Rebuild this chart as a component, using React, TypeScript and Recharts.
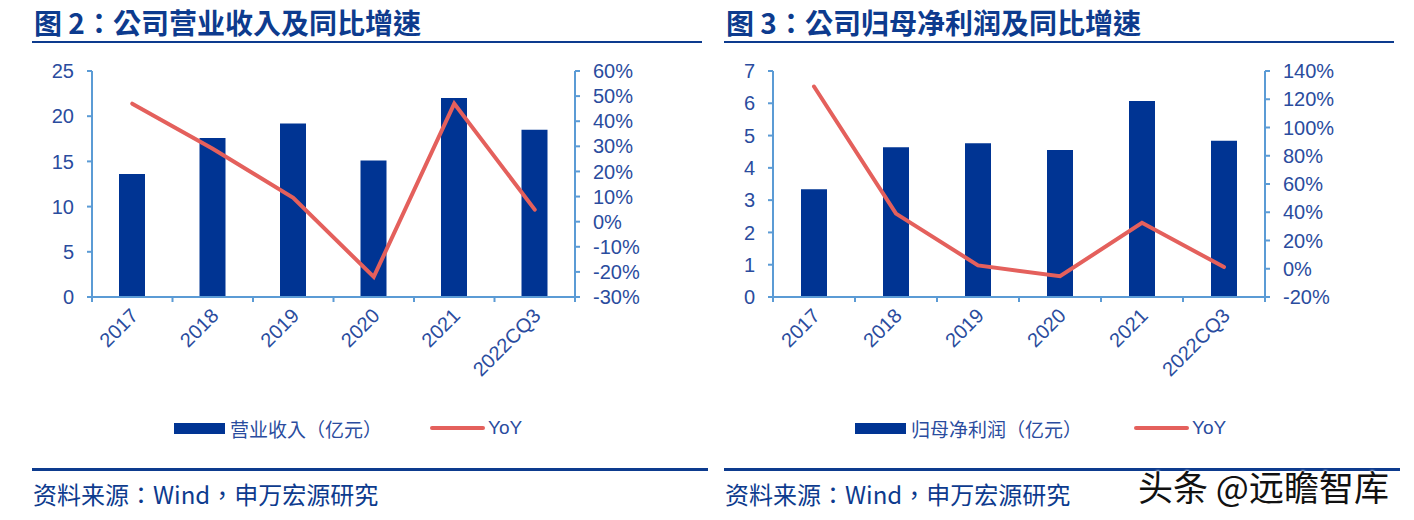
import { ComposedChart, Bar, Line, XAxis, YAxis } from 'recharts';

const years = ['2017', '2018', '2019', '2020', '2021', '2022CQ3'];

// 图2: 营业收入 (亿元) 及 YoY (%)
const revenue = [13.6, 17.6, 19.2, 15.1, 22.0, 18.5];
const revenueYoy = [47, 29, 9.5, -22, 47, 4.8];
const revenueTicks = [0, 5, 10, 15, 20, 25];
const revenueYoyTicks = [-30, -20, -10, 0, 10, 20, 30, 40, 50, 60];

// 图3: 归母净利润 (亿元) 及 YoY (%)
const profit = [3.34, 4.64, 4.76, 4.55, 6.07, 4.84];
const profitYoy = [129, 39, 2.4, -5.3, 32.5, 1.2];
const profitTicks = [0, 1, 2, 3, 4, 5, 6, 7];
const profitYoyTicks = [-20, 0, 20, 40, 60, 80, 100, 120, 140];

const BAR = '#003493';
const RED = '#e4605c';
const AXIS = '#5b9bd5';
const TEXT = '#2a4c9e';
const NAVY = '#0d3b8e';
const NUM_FONT = "'Liberation Sans', Arial, sans-serif";
const CJK_FONT = "'Noto Sans CJK TC', 'Noto Sans CJK SC', 'Liberation Sans', sans-serif";

const XTick = (props: any) => {
  const { x, y, payload, index } = props;
  const off = payload && payload.offset ? payload.offset : 40;
  return (
    <g>
      <line x1={x - off} x2={x - off} y1={y - 5} y2={y} stroke={AXIS} strokeWidth={2} />
      {index === years.length - 1 && (
        <line x1={x + off} x2={x + off} y1={y - 5} y2={y} stroke={AXIS} strokeWidth={2} />
      )}
      <text
        x={x + 7}
        y={y + 15}
        transform={`rotate(-45, ${x + 7}, ${y + 15})`}
        textAnchor="end"
        fontSize={20}
        fontFamily={NUM_FONT}
        fill={TEXT}
      >
        {payload.value}
      </text>
    </g>
  );
};

interface PanelProps {
  left: number;
  title: string;
  barName: string;
  bars: number[];
  yoy: number[];
  leftTicks: number[];
  rightTicks: number[];
  margin: { top: number; right: number; bottom: number; left: number };
  legendX: number;
  redX: number;
}

const Panel = ({ left, title, barName, bars, yoy, leftTicks, rightTicks, margin, legendX, redX }: PanelProps) => {
  const data = years.map((year, i) => ({ year, value: bars[i], yoy: yoy[i] }));
  return (
    <div style={{ position: 'absolute', left, top: 0, width: 690, height: 520 }}>
      <div
        style={{
          position: 'absolute',
          left: 2,
          top: 4,
          fontFamily: CJK_FONT,
          fontWeight: 700,
          fontSize: 28,
          lineHeight: '36px',
          color: NAVY,
          whiteSpace: 'nowrap',
        }}
      >
        {title}
      </div>
      <div style={{ position: 'absolute', left: 0, top: 41, width: 670, height: 2, background: NAVY }} />
      <ComposedChart
        width={690}
        height={470}
        data={data}
        margin={margin}
        style={{ position: 'absolute', left: 0, top: 0 }}
      >
        <XAxis
          dataKey="year"
          height={80}
          tickLine={false}
          tickSize={5}
          tickMargin={0}
          interval={0}
          axisLine={{ stroke: AXIS, strokeWidth: 2 }}
          tick={<XTick />}
        />
        <YAxis
          yAxisId="l"
          width={50}
          domain={[leftTicks[0], leftTicks[leftTicks.length - 1]]}
          ticks={leftTicks}
          interval={0}
          tickSize={5}
          tickMargin={13}
          axisLine={{ stroke: AXIS, strokeWidth: 2 }}
          tickLine={{ stroke: AXIS, strokeWidth: 2 }}
          tick={{ fill: TEXT, fontSize: 20, fontFamily: NUM_FONT }}
        />
        <YAxis
          yAxisId="r"
          orientation="right"
          width={80}
          domain={[rightTicks[0], rightTicks[rightTicks.length - 1]]}
          ticks={rightTicks}
          interval={0}
          tickSize={5}
          tickMargin={13}
          tickFormatter={(v: number) => `${v}%`}
          axisLine={{ stroke: AXIS, strokeWidth: 2 }}
          tickLine={{ stroke: AXIS, strokeWidth: 2 }}
          tick={{ fill: TEXT, fontSize: 20, fontFamily: NUM_FONT }}
        />
        <Bar yAxisId="l" dataKey="value" fill={BAR} barSize={26} isAnimationActive={false} />
        <Line
          yAxisId="r"
          dataKey="yoy"
          type="linear"
          stroke={RED}
          strokeWidth={4}
          strokeLinecap="round"
          dot={false}
          isAnimationActive={false}
        />
      </ComposedChart>
      <div style={{ position: 'absolute', left: legendX, top: 423, width: 51, height: 11, background: BAR }} />
      <div
        style={{
          position: 'absolute',
          left: legendX + 56,
          top: 416,
          fontFamily: CJK_FONT,
          fontSize: 19,
          lineHeight: '26px',
          color: TEXT,
          whiteSpace: 'nowrap',
        }}
      >
        {barName}
      </div>
      <div style={{ position: 'absolute', left: redX, top: 426, width: 55, height: 4, borderRadius: 2, background: RED }} />
      <div
        style={{
          position: 'absolute',
          left: redX + 58,
          top: 415,
          fontFamily: NUM_FONT,
          fontSize: 19,
          lineHeight: '26px',
          color: TEXT,
        }}
      >
        YoY
      </div>
      <div style={{ position: 'absolute', left: 0, top: 468, width: 676, height: 3, background: NAVY }} />
      <div
        style={{
          position: 'absolute',
          left: 1,
          top: 477,
          fontFamily: CJK_FONT,
          fontSize: 24,
          lineHeight: '34px',
          color: NAVY,
          whiteSpace: 'nowrap',
        }}
      >
        资料来源：Wind，申万宏源研究
      </div>
    </div>
  );
};

export default function App() {
  return (
    <div
      style={{
        position: 'absolute',
        left: 0,
        top: 0,
        width: 1414,
        height: 520,
        background: '#ffffff',
        overflow: 'hidden',
      }}
    >
      <Panel
        left={32}
        title="图 2：公司营业收入及同比增速"
        barName="营业收入（亿元）"
        bars={revenue}
        yoy={revenueYoy}
        leftTicks={revenueTicks}
        rightTicks={revenueYoyTicks}
        margin={{ top: 71, right: 67, bottom: 93, left: 10 }}
        legendX={142}
        redX={398}
      />
      <Panel
        left={724}
        title="图 3：公司归母净利润及同比增速"
        barName="归母净利润（亿元）"
        bars={profit}
        yoy={profitYoy}
        leftTicks={profitTicks}
        rightTicks={profitYoyTicks}
        margin={{ top: 71, right: 69, bottom: 93, left: -1 }}
        legendX={131}
        redX={410}
      />
      <div
        style={{
          position: 'absolute',
          left: 1138,
          top: 463,
          fontFamily: "'Noto Sans CJK SC', sans-serif",
          fontSize: 35,
          lineHeight: '46px',
          color: '#111111',
          whiteSpace: 'nowrap',
          textShadow: '0 0 2px #fff, 0 0 2px #fff, 0 0 3px #fff',
        }}
      >
        头条 @远瞻智库
      </div>
    </div>
  );
}
